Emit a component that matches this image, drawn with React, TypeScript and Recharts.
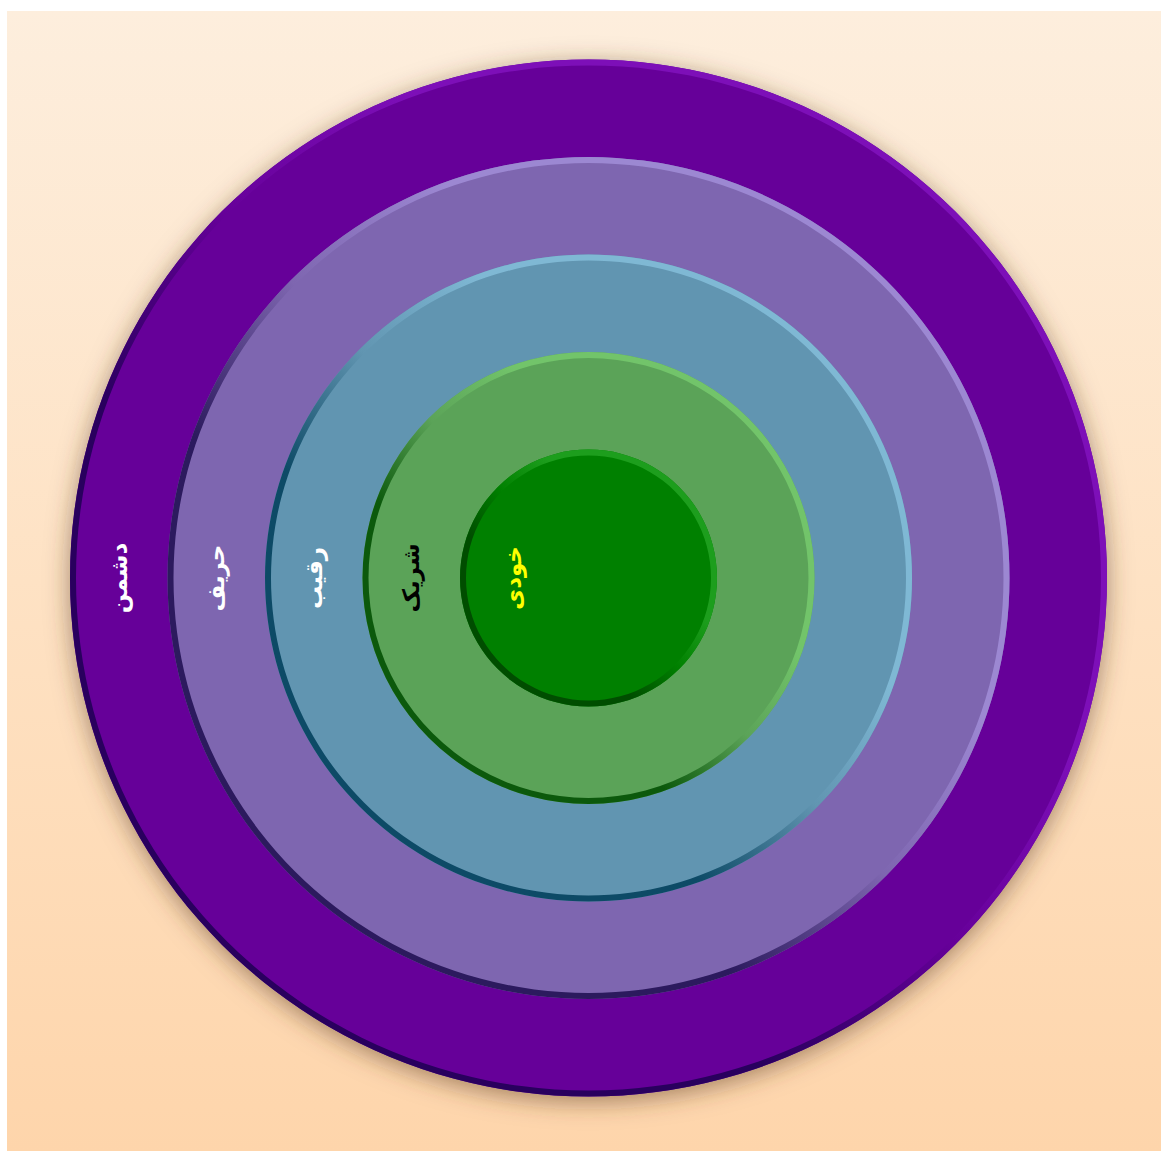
import { PieChart, Pie, Cell } from 'recharts'

// levels from the centre outwards
const levels = ['خودی', 'شریک', 'رقیب', 'حریف', 'دشمن']
const levelValues = [1, 1, 1, 1, 1]

const fillColors = ['#008000', '#5ba358', '#6195b1', '#7e66b0', '#660099']
const rimLight = ['#1d9e1d', '#72c46a', '#7fb8d4', '#9c88d2', '#7d0fb8']
const rimDark = ['#004d00', '#0c590c', '#0d4a66', '#2c1a5e', '#29005e']
const labelColors = ['#ffff00', '#000000', '#ffffff', '#ffffff', '#ffffff']

const W = 1154
const H = 1140
const CX = 581.5
const CY = 567
const INNER = 128.5
const STEP = 97.5
const RIM = 6

const radiusOf = (i: number) => INNER + STEP * i
const labelRadius = (i: number) => (i === 0 ? INNER * 0.59 : (radiusOf(i - 1) + radiusOf(i)) / 2)

const makeLabel = (i: number) => (props: { cx: number; cy: number }) => {
  const x = props.cx - labelRadius(i)
  const y = props.cy
  return (
    <text
      x={x}
      y={y}
      transform={`rotate(-90 ${x} ${y})`}
      textAnchor="middle"
      dominantBaseline="central"
      fill={labelColors[i]}
      fontFamily="DejaVu Sans"
      fontWeight="bold"
      fontSize={23}
      direction="rtl"
    >
      {levels[i]}
    </text>
  )
}

export default function App() {
  const order = levels.map((_, i) => i).reverse()
  return (
    <div
      style={{
        position: 'absolute',
        left: 7,
        top: 11,
        width: W,
        height: H,
        background: 'linear-gradient(to bottom, #fdeedd 0%, #fee2c4 50%, #fed5ab 100%)',
      }}
    >
      <style>{'body { margin: 0; overflow: hidden; }'}</style>
      <PieChart width={W} height={H} margin={{ top: 0, right: 0, bottom: 0, left: 0 }}>
        <defs>
          <filter id="discShadow" x="-20%" y="-20%" width="140%" height="140%">
            <feDropShadow dx="0" dy="5" stdDeviation="12" floodColor="#5a3a1a" floodOpacity="0.55" />
          </filter>
          {levels.map((_, i) => (
            <linearGradient key={i} id={`rim${i}`} x1="1" y1="0" x2="0" y2="1">
              <stop offset="0%" stopColor={rimLight[i]} />
              <stop offset="35%" stopColor={rimLight[i]} />
              <stop offset="50%" stopColor={fillColors[i]} />
              <stop offset="65%" stopColor={rimDark[i]} />
              <stop offset="100%" stopColor={rimDark[i]} />
            </linearGradient>
          ))}
        </defs>
        {order.flatMap(i => [
          <Pie
            key={`disc${i}`}
            data={[{ name: levels[i], value: levelValues[i] }]}
            dataKey="value"
            cx={CX}
            cy={CY}
            innerRadius={0}
            outerRadius={radiusOf(i)}
            startAngle={0}
            endAngle={360}
            stroke="none"
            label={makeLabel(i)}
            labelLine={false}
            isAnimationActive={false}
          >
            <Cell fill={fillColors[i]} filter={i === levels.length - 1 ? 'url(#discShadow)' : undefined} />
          </Pie>,
          <Pie
            key={`rim${i}`}
            data={[{ name: levels[i], value: levelValues[i] }]}
            dataKey="value"
            cx={CX}
            cy={CY}
            innerRadius={radiusOf(i) - RIM}
            outerRadius={radiusOf(i)}
            startAngle={0}
            endAngle={360}
            stroke="none"
            isAnimationActive={false}
          >
            <Cell fill={`url(#rim${i})`} />
          </Pie>,
        ])}
      </PieChart>
    </div>
  )
}
